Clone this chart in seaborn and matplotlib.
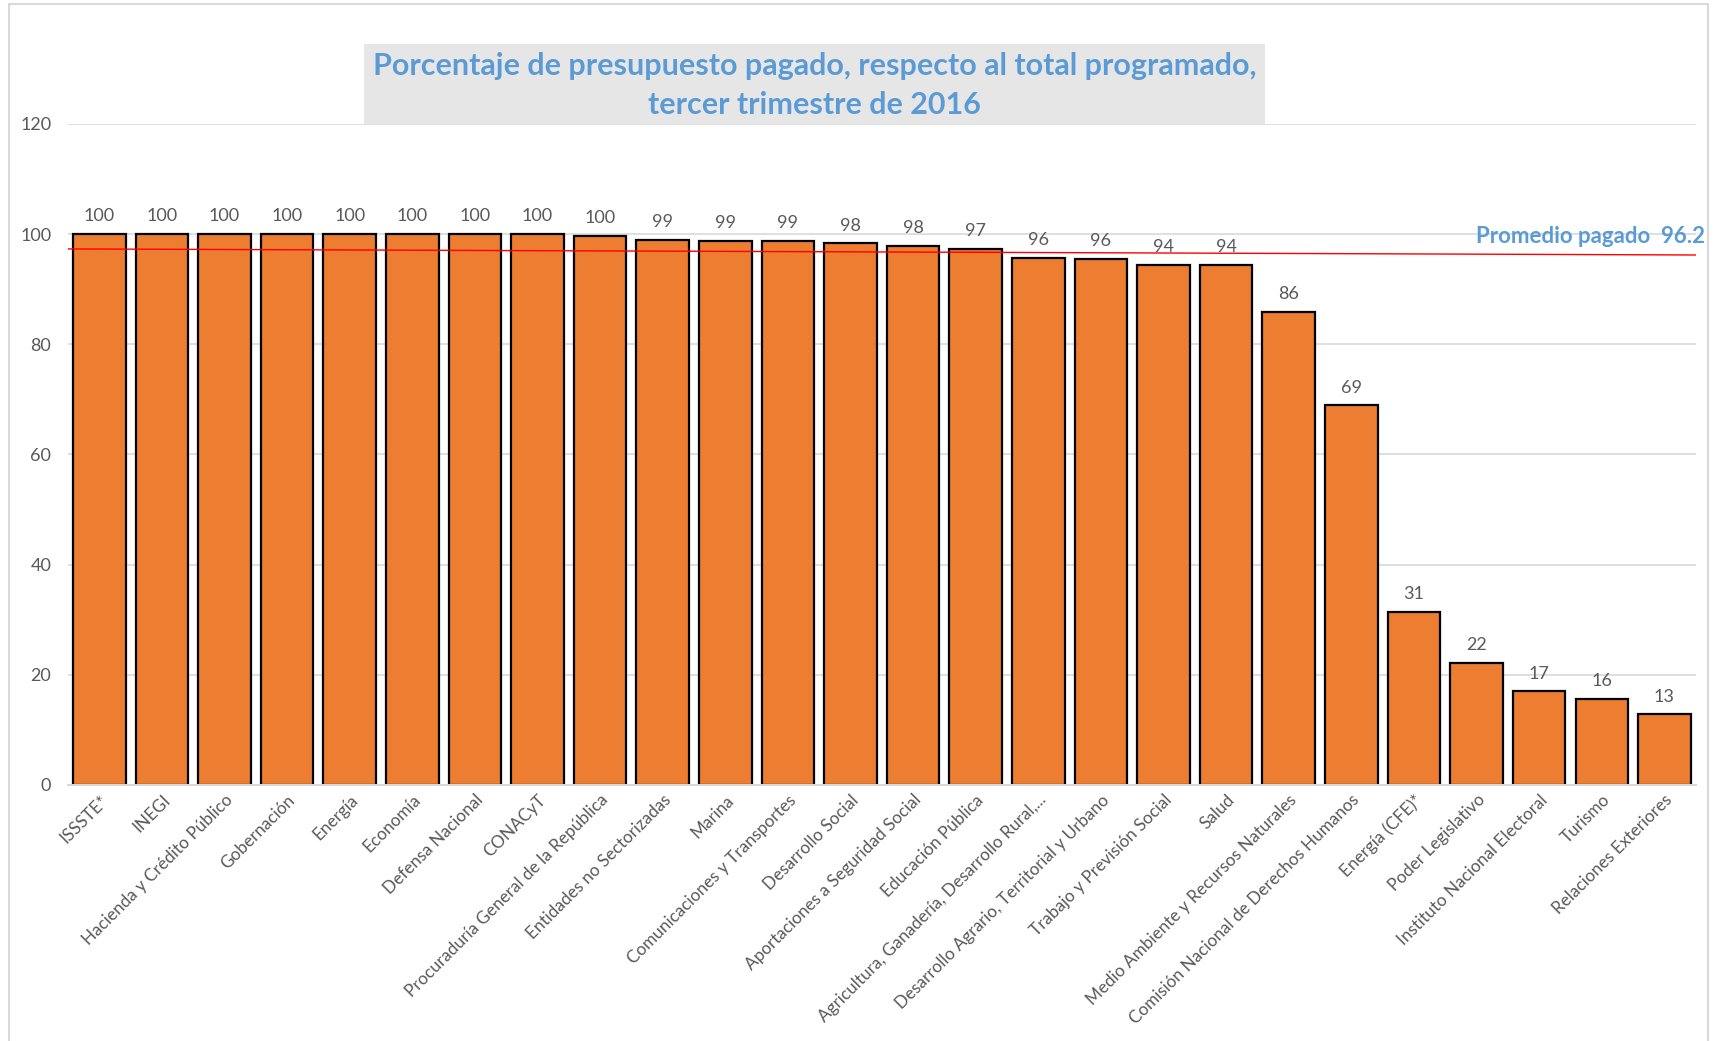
import matplotlib
matplotlib.use('Agg')
import matplotlib.pyplot as plt
import seaborn as sns
from matplotlib.patches import Rectangle

# datos
dependencias = [
    'ISSSTE*', 'INEGI', 'Hacienda y Crédito Público', 'Gobernación', 'Energía',
    'Economía', 'Defensa Nacional', 'CONACyT', 'Procuraduría General de la República',
    'Entidades no Sectorizadas', 'Marina', 'Comunicaciones y Transportes',
    'Desarrollo Social', 'Aportaciones a Seguridad Social', 'Educación Pública',
    'Agricultura, Ganadería, Desarrollo Rural,...',
    'Desarrollo Agrario, Territorial y Urbano', 'Trabajo y Previsión Social', 'Salud',
    'Medio Ambiente y Recursos Naturales', 'Comisión Nacional de Derechos Humanos',
    'Energía (CFE)*', 'Poder Legislativo', 'Instituto Nacional Electoral', 'Turismo',
    'Relaciones Exteriores',
]
pagado = [100, 100, 100, 100, 100, 100, 100, 100, 99.7, 99.0, 98.8, 98.8, 98.3,
          97.8, 97.3, 95.7, 95.5, 94.4, 94.4, 85.9, 68.9, 31.4, 22.2, 17.0, 15.6, 12.8]
promedio = 96.2
linea_promedio = [97.3, 96.2]  # la linea roja baja un poco hacia la derecha
y_ticks = [0, 20, 40, 60, 80, 100, 120]

titulo = 'Porcentaje de presupuesto pagado, respecto al total programado,\ntercer trimestre de 2016'

sns.set_style('white')
plt.rcParams['font.family'] = ['Lato', 'DejaVu Sans']

gris = '#595959'
azul = '#5B9BD5'
naranja = '#ED7D31'

fig = plt.figure(figsize=(17.17, 10.41), dpi=100)
ax = fig.add_axes([0.0396, 0.246, 0.948, 0.635])

sns.barplot(x=dependencias, y=pagado, color=naranja, saturation=1,
            edgecolor='black', linewidth=1.6, width=0.84, ax=ax)

ax.bar_label(ax.containers[0], labels=[f'{v:.0f}' for v in pagado],
             padding=7, fontsize=13, color=gris)

ax.set_ylim(0, 120)
ax.set_xlim(-0.5, len(dependencias) - 0.5)
ax.set_yticks(y_ticks)
ax.yaxis.grid(True, color='#D9D9D9', linewidth=1.2)
ax.set_axisbelow(True)
for s in ['top', 'right', 'left']:
    ax.spines[s].set_visible(False)
ax.spines['bottom'].set_color('#D9D9D9')
ax.spines['bottom'].set_linewidth(1.5)
ax.tick_params(axis='y', labelsize=13, colors=gris, length=0, pad=12)
ax.tick_params(axis='x', length=0, pad=5)
plt.setp(ax.get_xticklabels(), rotation=45, ha='right', rotation_mode='anchor',
         fontsize=12.3, color=gris)

# linea de promedio
ax.plot([-0.5, len(dependencias) - 0.5], linea_promedio, color='red', linewidth=1)
ax.text(len(dependencias) - 0.35, 99.6, f'Promedio pagado  {promedio}', ha='right',
        va='center', fontsize=16, fontweight='bold', color=azul, clip_on=False)

# titulo con fondo gris
fig.patches.append(Rectangle((0.212, 0.881), 0.525, 0.077, transform=fig.transFigure,
                             facecolor='#E7E6E6', edgecolor='none', zorder=0))
fig.text(0.4745, 0.918, titulo, ha='center', va='center', fontsize=22,
         fontweight='bold', color=azul, linespacing=1.45)

# marco del grafico
fig.patches.append(Rectangle((0.005, -0.01), 0.99, 1.006, transform=fig.transFigure,
                             facecolor='none', edgecolor='#D9D9D9', linewidth=1.5))

fig.savefig('out.png', dpi=100)
